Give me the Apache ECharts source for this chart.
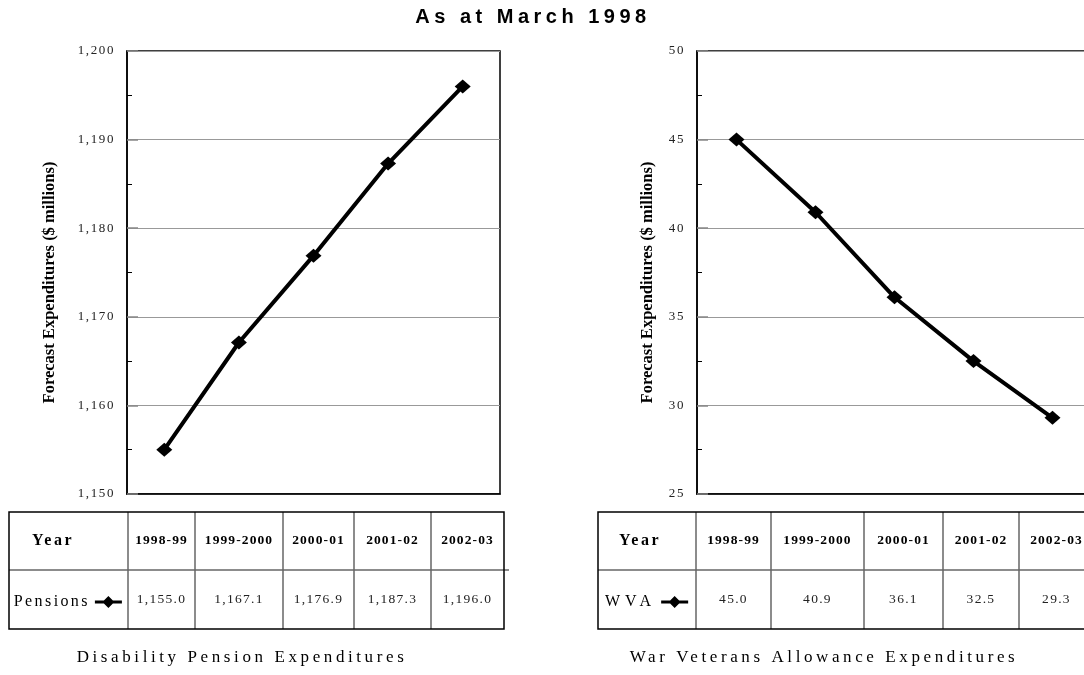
<!DOCTYPE html>
<html>
<head>
<meta charset="utf-8">
<title>Forecast Expenditures - As at March 1998</title>
<script src="https://cdn.jsdelivr.net/npm/echarts@6/dist/echarts.min.js"></script>
<style>
  html, body { margin: 0; padding: 0; background: #fff; }
  #chart { width: 1084px; height: 675px; }
</style>
</head>
<body>
<div id="chart"></div>
<script>
// values as printed in the tables under the charts
const years = ["1998-99", "1999-2000", "2000-01", "2001-02", "2002-03"];
const pensions = [1155.0, 1167.1, 1176.9, 1187.3, 1196.0];
const wva = [45.0, 40.9, 36.1, 32.5, 29.3];
// [min, max, interval] of the value axes
const pensionAxis = [1150, 1200, 10];
const wvaAxis = [25, 50, 5];

const SERIF = '"Liberation Serif", "Times New Roman", serif';
const SANS = '"Liberation Sans", Arial, sans-serif';

// the original is spaced out like an old Excel print; echarts has no letter spacing
// option so it is set on the canvas context right before each text is drawn
const spacing = {
  "As at March 1998": 4.5,
  "Year": 2.5,
  "Pensions": 2.4,
  "WVA": 5,
  "Disability Pension Expenditures": 3.6,
  "War Veterans Allowance Expenditures": 3.6,
};
const fillText = CanvasRenderingContext2D.prototype.fillText;
CanvasRenderingContext2D.prototype.fillText = function (text, x, y, maxWidth) {
  let s = spacing[text];
  if (s == null) {
    if (/^\d{4}-\d+$/.test(text)) s = 1.1;
    else if (/^[\d,]+\.\d$/.test(text)) s = 1.3;
    else if (/^[\d,]+$/.test(text)) s = 1.6;
    else s = 0;
  }
  this.letterSpacing = s + "px";
  return maxWidth == null
    ? fillText.call(this, text, x, y)
    : fillText.call(this, text, x, y, maxWidth);
};

// line with a diamond on it, as in the Excel legend key (27 x 12 box)
const legendKey = "path://M0,4.5 L9,4.5 L13.5,0 L18,4.5 L27,4.5 L27,7.5 L18,7.5 L13.5,12 L9,7.5 L0,7.5 Z";

// table under each chart (column edges in px)
const tables = [
  {
    cols: [9, 128, 195, 283, 354, 431, 504],
    yearX: 53,
    values: pensions.map((v) => v.toLocaleString("en-US", { minimumFractionDigits: 1 })),
  },
  {
    cols: [598, 696, 771, 864, 943, 1019, 1094],
    yearX: 640,
    values: wva.map((v) => v.toFixed(1)),
  },
];
const rowTop = 512, rowMid = 570, rowBottom = 629;

function tableGraphics(t) {
  const first = t.cols[0], last = t.cols[t.cols.length - 1];
  const els = [];
  for (let i = 1; i < t.cols.length - 1; i++) {
    els.push({
      type: "line",
      shape: { x1: t.cols[i], y1: rowTop, x2: t.cols[i], y2: rowBottom },
      style: { stroke: "#666", lineWidth: 1.5 },
    });
  }
  els.push({
    type: "line",
    shape: { x1: first, y1: rowMid, x2: last + 5, y2: rowMid },
    style: { stroke: "#666", lineWidth: 1.5 },
  });
  els.push({
    type: "rect",
    shape: { x: first, y: rowTop, width: last - first, height: rowBottom - rowTop },
    style: { fill: null, stroke: "#000", lineWidth: 1.5 },
  });
  els.push({
    type: "text",
    x: t.yearX,
    y: (rowTop + rowMid) / 2,
    style: {
      text: "Year", align: "center", verticalAlign: "middle",
      font: "bold 16px " + SERIF, fill: "#000",
    },
  });
  years.forEach((y, i) => {
    const cx = (t.cols[i + 1] + t.cols[i + 2]) / 2;
    els.push({
      type: "text",
      x: cx,
      y: (rowTop + rowMid) / 2,
      style: {
        text: y, align: "center", verticalAlign: "middle",
        font: "bold 13.5px " + SERIF, fill: "#000",
      },
    });
    els.push({
      type: "text",
      x: cx,
      y: (rowMid + rowBottom) / 2,
      style: {
        text: t.values[i], align: "center", verticalAlign: "middle",
        font: "13.5px " + SERIF, fill: "#222",
      },
    });
  });
  return els;
}

function valueAxis(gridIndex, range, nameGap) {
  return {
    type: "value",
    gridIndex: gridIndex,
    min: range[0],
    max: range[1],
    interval: range[2],
    name: "Forecast Expenditures ($ millions)",
    nameLocation: "middle",
    nameGap: nameGap,
    nameTextStyle: {
      fontFamily: SERIF, fontWeight: "bold", fontSize: 16.5, color: "#000",
      padding: [0, 20, 0, 0],
    },
    axisLine: { show: true, lineStyle: { color: "#000", width: 1.5 } },
    axisTick: { show: true, inside: true, length: 11, lineStyle: { color: "#888", width: 1.5 } },
    minorTick: { show: true, splitNumber: 2, length: 5, lineStyle: { color: "#000", width: 1 } },
    splitLine: { show: true, lineStyle: { color: "#999", width: 1 } },
    axisLabel: {
      margin: 12,
      fontFamily: SERIF,
      fontSize: 13,
      color: "#222",
      formatter: (v) => v.toLocaleString("en-US"),
    },
  };
}

function categoryAxis(gridIndex) {
  return {
    type: "category",
    gridIndex: gridIndex,
    data: years,
    boundaryGap: true,
    axisLine: { lineStyle: { color: "#000", width: 1.5 } },
    axisTick: { show: false },
    axisLabel: { show: false },
  };
}

function lineSeries(name, data, index) {
  return {
    name: name,
    type: "line",
    xAxisIndex: index,
    yAxisIndex: index,
    data: data,
    symbol: "diamond",
    symbolSize: [16, 14],
    lineStyle: { color: "#000", width: 4 },
    itemStyle: { color: "#000" },
  };
}

const legendText = { fontFamily: SERIF, fontSize: 16, color: "#000" };

const option = {
  animation: false,
  backgroundColor: "#fff",
  grid: [
    { left: 127, top: 51, width: 373, height: 443, show: true, borderColor: "#000", borderWidth: 1.5, outerBoundsMode: "none" },
    { left: 697, top: 51, width: 395, height: 443, show: true, borderColor: "#000", borderWidth: 1.5, outerBoundsMode: "none" },
  ],
  xAxis: [categoryAxis(0), categoryAxis(1)],
  yAxis: [valueAxis(0, pensionAxis, 69), valueAxis(1, wvaAxis, 41)],
  legend: [
    {
      data: [{ name: "Pensions", icon: legendKey }], left: 33, top: 594, padding: 0, align: "right",
      itemWidth: 27, itemHeight: 12, selectedMode: false, textStyle: legendText,
    },
    {
      data: [{ name: "WVA", icon: legendKey }], left: 620, top: 594, padding: 0, align: "right",
      itemWidth: 27, itemHeight: 12, selectedMode: false, textStyle: legendText,
    },
  ],
  series: [lineSeries("Pensions", pensions, 0), lineSeries("WVA", wva, 1)],
  graphic: [
    {
      type: "text", x: 533, y: 17,
      style: {
        text: "As at March 1998", align: "center", verticalAlign: "middle",
        font: "bold 20px " + SANS, fill: "#000",
      },
    },
    {
      type: "text", x: 242, y: 658,
      style: {
        text: "Disability Pension Expenditures", align: "center", verticalAlign: "middle",
        font: "17px " + SERIF, fill: "#000",
      },
    },
    {
      type: "text", x: 824, y: 658,
      style: {
        text: "War Veterans Allowance Expenditures", align: "center", verticalAlign: "middle",
        font: "17px " + SERIF, fill: "#000",
      },
    },
    ...tableGraphics(tables[0]),
    ...tableGraphics(tables[1]),
  ],
};

const myChart = echarts.init(document.getElementById("chart"));
myChart.setOption(option);
</script>
</body>
</html>
